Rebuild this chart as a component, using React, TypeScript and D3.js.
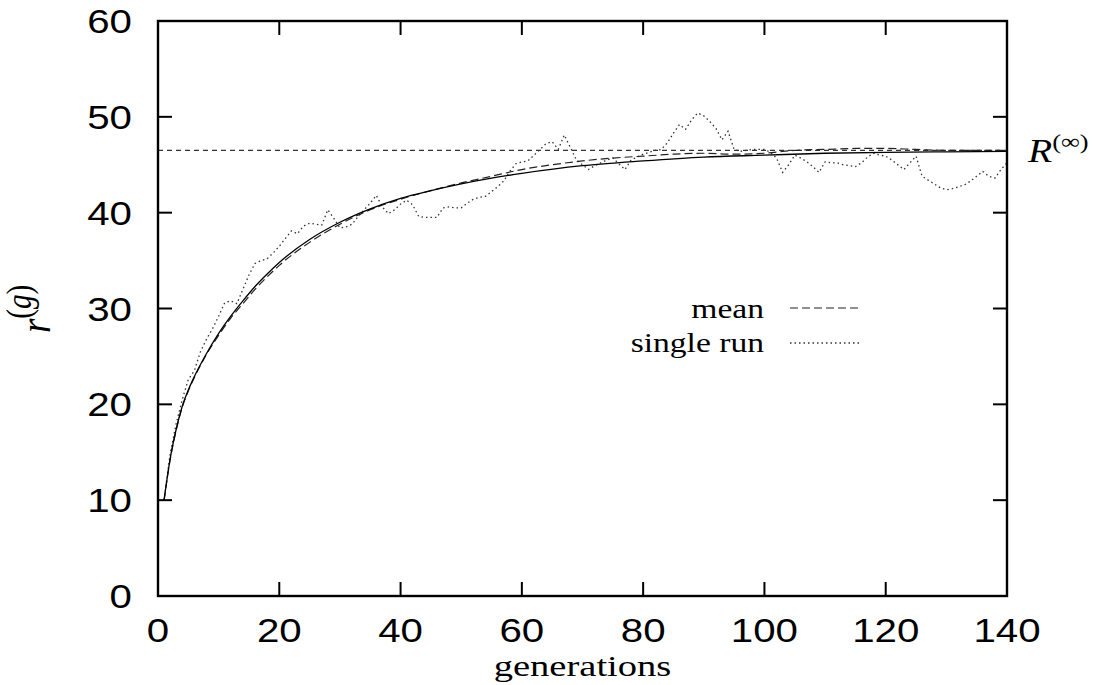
import React from "react";
import * as d3 from "d3";

const xTicks = [0, 20, 40, 60, 80, 100, 120, 140];
const yTicks = [0, 10, 20, 30, 40, 50, 60];
const rInf = 46.5;

const theoryGen = [1, 2, 3, 4, 5, 6, 8, 10, 12, 14, 16, 18, 20, 25, 30, 35, 40, 45, 50, 55, 60, 70, 80, 90, 100, 110, 120, 130, 140];
const theoryVal = [10.0, 14.3, 17.4, 19.8, 21.5, 22.9, 25.3, 27.4, 29.2, 30.8, 32.3, 33.6, 34.8, 37.2, 39.0, 40.4, 41.5, 42.3, 43.0, 43.6, 44.1, 44.9, 45.4, 45.8, 46.0, 46.2, 46.3, 46.35, 46.4];

const meanGen = [1, 2, 3, 4, 5, 6, 8, 10, 12, 14, 16, 18, 20, 25, 30, 35, 40, 45, 50, 55, 60, 65, 70, 75, 80, 85, 90, 95, 100, 105, 110, 115, 120, 125, 130, 135, 140];
const meanVal = [10.0, 14.2, 17.3, 19.7, 21.4, 22.8, 25.2, 27.2, 29.0, 30.5, 32.0, 33.3, 34.5, 36.9, 38.8, 40.3, 41.4, 42.3, 43.1, 43.8, 44.5, 45.0, 45.4, 45.7, 45.9, 46.1, 46.2, 46.1, 46.2, 46.5, 46.6, 46.7, 46.7, 46.6, 46.5, 46.5, 46.5];

const singleGen = d3.range(1, 141);
const singleVal = [
  10.0, 14.8, 18.0, 20.5, 22.6, 23.5, 25.5, 26.8, 27.9, 29.2,
  30.6, 30.8, 30.5, 32.0, 33.5, 34.7, 35.0, 35.2, 35.8, 36.5,
  37.3, 38.1, 37.8, 38.6, 38.9, 38.8, 38.7, 40.3, 39.4, 38.4,
  38.5, 38.8, 39.6, 40.3, 41.0, 41.8, 40.6, 39.9, 40.3, 40.9,
  41.3, 40.8, 39.6, 39.5, 39.5, 39.5, 40.5, 40.6, 40.5, 40.5,
  41.0, 41.4, 41.6, 41.7, 42.2, 42.7, 43.3, 44.3, 45.1, 45.3,
  45.4, 46.0, 46.6, 47.2, 47.4, 46.6, 48.1, 46.8, 45.5, 45.0,
  44.5, 44.9, 45.2, 45.5, 45.7, 45.1, 44.5, 45.5, 45.8, 46.1,
  46.3, 46.5, 46.6, 47.3, 48.3, 49.2, 48.7, 49.7, 50.4, 50.1,
  49.5, 48.8, 47.6, 48.5, 46.6, 46.4, 46.5, 46.6, 46.6, 46.6,
  46.3, 45.7, 44.2, 45.0, 46.0, 45.7, 45.3, 44.8, 44.2, 45.3,
  45.2, 45.2, 45.0, 44.9, 44.8, 45.2, 45.8, 46.2, 46.0, 45.9,
  45.5, 45.0, 44.5, 45.2, 45.9, 43.8, 43.4, 43.0, 42.6, 42.4,
  42.5, 42.7, 42.9, 43.3, 43.8, 44.3, 43.8, 43.6, 44.5, 45.2,
];

const legendLabels = ["mean", "single run"];

const W = 1093;
const H = 685;
const left = 158;
const right = 1007;
const top = 21;
const bottom = 596;

const sans = "Liberation Sans, Arimo, Arial, Helvetica, sans-serif";
const serif = "Liberation Serif, Tinos, Times New Roman, Times, serif";
const SX = 1.22;
const SXS = 1.2;

export default function App() {
  const x = d3.scaleLinear().domain([0, 140]).range([left, right]);
  const y = d3.scaleLinear().domain([0, 60]).range([bottom, top]);

  const line = d3
    .line<[number, number]>()
    .x((d) => x(d[0]))
    .y((d) => y(d[1]));
  const smooth = d3
    .line<[number, number]>()
    .x((d) => x(d[0]))
    .y((d) => y(d[1]))
    .curve(d3.curveMonotoneX);

  const theory = theoryGen.map((g, i) => [g, theoryVal[i]] as [number, number]);
  const mean = meanGen.map((g, i) => [g, meanVal[i]] as [number, number]);
  const single = singleGen.map((g, i) => [g, singleVal[i]] as [number, number]);

  const tick = 14;
  const sansStyle = { fontFamily: sans, fontSize: 33 };
  const serifStyle = (size: number) => ({ fontFamily: serif, fontSize: size });

  return (
    <svg
      width={W}
      height={H}
      style={{ position: "absolute", left: 0, top: 0, background: "#fff" }}
    >
      <rect x={0} y={0} width={W} height={H} fill="#fff" />
      {/* R infinity line */}
      <line
        x1={x(0)}
        x2={x(140)}
        y1={y(rInf)}
        y2={y(rInf)}
        stroke="#333"
        strokeWidth={1.2}
        strokeDasharray="5,4"
      />
      {/* single run */}
      <path
        d={line(single) || ""}
        fill="none"
        stroke="#333"
        strokeWidth={1.3}
        strokeDasharray="1.5,3"
      />
      {/* mean */}
      <path
        d={smooth(mean) || ""}
        fill="none"
        stroke="#222"
        strokeWidth={1.2}
        strokeDasharray="8,4"
      />
      {/* theory */}
      <path d={smooth(theory) || ""} fill="none" stroke="#000" strokeWidth={1.3} />

      {/* ticks */}
      {yTicks.map((t) => (
        <g key={"y" + t}>
          <line x1={left} x2={left + tick} y1={y(t)} y2={y(t)} stroke="#000" strokeWidth={2} />
          <line x1={right} x2={right - tick} y1={y(t)} y2={y(t)} stroke="#000" strokeWidth={2} />
          <text
            transform={`translate(132,${y(t) + 12}) scale(${SX},1)`}
            textAnchor="end"
            style={sansStyle}
            fill="#000"
          >
            {t}
          </text>
        </g>
      ))}
      {xTicks.map((t) => (
        <g key={"x" + t}>
          <line x1={x(t)} x2={x(t)} y1={bottom} y2={bottom - tick} stroke="#000" strokeWidth={2} />
          <line x1={x(t)} x2={x(t)} y1={top} y2={top + tick} stroke="#000" strokeWidth={2} />
          <text
            transform={`translate(${x(t)},642) scale(${SX},1)`}
            textAnchor="middle"
            style={sansStyle}
            fill="#000"
          >
            {t}
          </text>
        </g>
      ))}

      {/* frame */}
      <rect
        x={left}
        y={top}
        width={right - left}
        height={bottom - top}
        fill="none"
        stroke="#000"
        strokeWidth={2.4}
      />

      {/* legend */}
      <text
        transform={`translate(764,318) scale(${SXS},1)`}
        textAnchor="end"
        style={serifStyle(28)}
        fill="#000"
      >
        {legendLabels[0]}
      </text>
      <line x1={790} x2={862} y1={308} y2={308} stroke="#222" strokeWidth={1.2} strokeDasharray="8,4" />
      <text
        transform={`translate(764,352) scale(${SXS},1)`}
        textAnchor="end"
        style={serifStyle(28)}
        fill="#000"
      >
        {legendLabels[1]}
      </text>
      <line x1={790} x2={862} y1={343} y2={343} stroke="#333" strokeWidth={1.3} strokeDasharray="1.5,3" />

      {/* R infinity label */}
      <text
        transform={`translate(1028,162) scale(${SXS},1)`}
        style={serifStyle(33)}
        fill="#000"
      >
        <tspan fontStyle="italic">R</tspan>
        <tspan fontSize={22} dy={-13}>(∞)</tspan>
      </text>

      {/* x label */}
      <text
        transform={`translate(${(left + right) / 2},676) scale(1.33,1)`}
        textAnchor="middle"
        style={serifStyle(29)}
        fill="#000"
      >
        generations
      </text>

      {/* y label, rotated to read bottom-to-top */}
      <g transform="translate(50,309)">
        <g transform={`scale(${SXS},1)`}>
          <g transform="rotate(-90)">
            <text x={0} y={0} textAnchor="middle" style={serifStyle(37)} fill="#000">
              <tspan fontStyle="italic">r</tspan>
              <tspan fontSize={29} dy={-16}>(</tspan>
              <tspan fontSize={29} fontStyle="italic">g</tspan>
              <tspan fontSize={29}>)</tspan>
            </text>
          </g>
        </g>
      </g>
    </svg>
  );
}
